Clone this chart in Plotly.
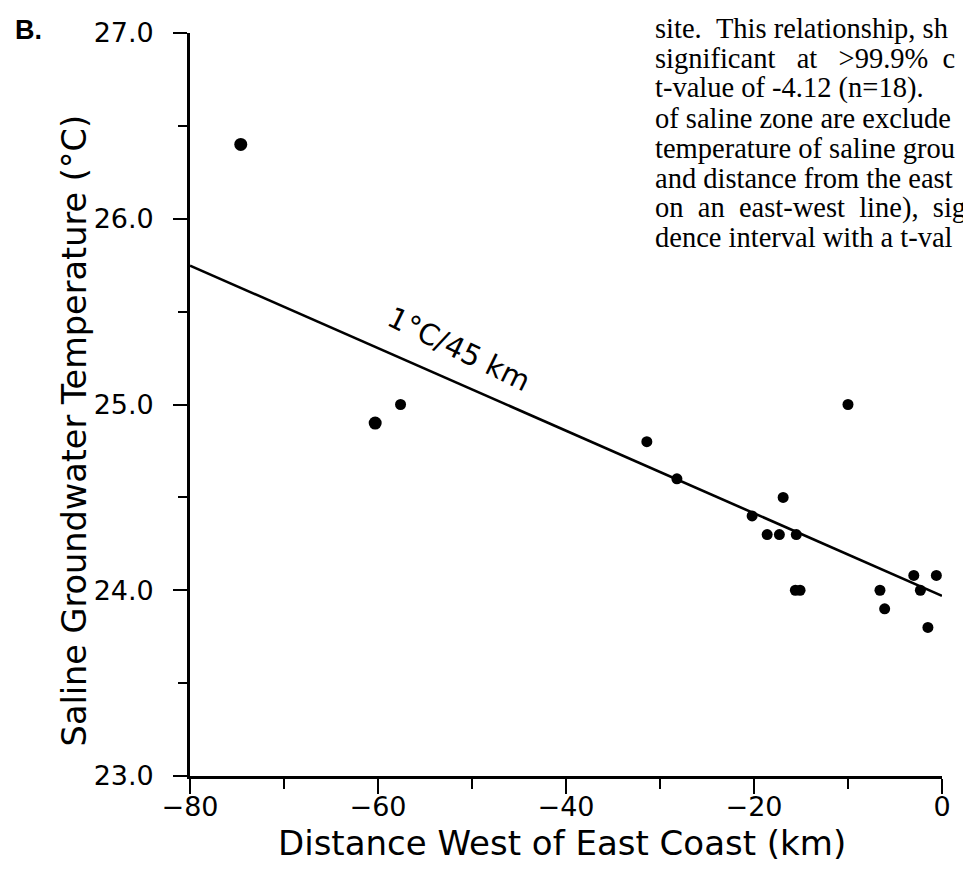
import plotly.graph_objects as go

# ---- data ----
dist_big = [-74.6, -60.3]
temp_big = [26.4, 24.9]

dist_pts = [-57.6, -31.4, -28.2, -20.2, -18.6, -17.3, -16.9, -15.5,
            -15.6, -15.1, -10.0, -6.6, -6.1, -3.0, -2.3, -1.5, -0.6]
temp_pts = [25.0, 24.8, 24.6, 24.4, 24.3, 24.3, 24.5, 24.3,
            24.0, 24.0, 25.0, 24.0, 23.9, 24.08, 24.0, 23.8, 24.08]

# regression: 1 degC per 45 km, value at the coast
fit_x = [-80, 0]
fit_intercept = 23.97
fit_slope = -1.0 / 45.0
fit_y = [fit_intercept + fit_slope * x for x in fit_x]

x_ticks = [-80, -60, -40, -20, 0]
y_ticks = [23.0, 24.0, 25.0, 26.0, 27.0]

NB = "\u00a0"
para_lines = [
    "site." + NB + NB + "This relationship, sh",
    "significant" + NB + NB + " at" + NB + NB + " >99.9%" + NB + " c",
    "t-value of -4.12 (n=18).",
    "of saline zone are exclude",
    "temperature of saline grou",
    "and distance from the east",
    "on" + NB + " an" + NB + " east-west" + NB + " line)," + NB + " sig",
    "dence interval with a t-val",
]

W, H = 963, 871
L, R, T, B = 190, 12, 33, 95
PW, PH = W - L - R, H - T - B


def px_x(px):
    return (px - L) / PW


def px_y(py):
    return (H - B - py) / PH


SANS = "DejaVu Sans"
SERIF = "Liberation Serif"

fig = go.Figure()
fig.add_trace(go.Scatter(x=fit_x, y=fit_y, mode="lines",
                         line=dict(color="black", width=2.6),
                         hoverinfo="skip", showlegend=False))
fig.add_trace(go.Scatter(x=dist_pts, y=temp_pts, mode="markers",
                         marker=dict(color="black", size=11,
                                     line=dict(width=0)),
                         cliponaxis=False, showlegend=False))
fig.add_trace(go.Scatter(x=dist_big, y=temp_big, mode="markers",
                         marker=dict(color="black", size=13,
                                     line=dict(width=0)),
                         cliponaxis=False, showlegend=False))

annotations = []
# slope label
annotations.append(dict(x=-51.4, y=25.30, xref="x", yref="y",
                        text="1°C/45 km", showarrow=False, textangle=26,
                        font=dict(family=SANS, size=29, color="black")))
# y axis title
annotations.append(dict(x=px_x(73), y=px_y(431), xref="paper", yref="paper",
                        text="Saline Groundwater Temperature (°C)",
                        showarrow=False, textangle=-90,
                        xanchor="center", yanchor="middle",
                        font=dict(family=SANS, size=33.5, color="black")))
# x axis title
annotations.append(dict(x=px_x(566), y=px_y(843), xref="paper", yref="paper",
                        text="Distance West of East Coast (km)",
                        showarrow=False, xanchor="center", yanchor="middle",
                        font=dict(family=SANS, size=34, color="black")))
# panel letter
annotations.append(dict(x=px_x(11), y=px_y(30), xref="paper", yref="paper",
                        text="<b>B.</b>", showarrow=False,
                        xanchor="left", yanchor="middle",
                        font=dict(family="Liberation Sans", size=27,
                                  color="black")))
# paragraph text (cut off at the right edge, as in the scan)
for i, line in enumerate(para_lines):
    annotations.append(dict(x=px_x(659), y=px_y(28 + i * 30),
                            xref="paper", yref="paper", text=line,
                            showarrow=False, xanchor="left",
                            yanchor="middle",
                            font=dict(family=SERIF, size=28.5,
                                      color="black")))
# page number (mostly cut off at the bottom)
annotations.append(dict(x=px_x(634), y=px_y(884), xref="paper", yref="paper",
                        text="160", showarrow=False, xanchor="center",
                        yanchor="middle",
                        font=dict(family=SERIF, size=26, color="black")))

fig.update_layout(
    width=W, height=H,
    margin=dict(l=L, r=R, t=T, b=B, pad=0),
    paper_bgcolor="white", plot_bgcolor="white",
    showlegend=False,
    annotations=annotations,
    xaxis=dict(range=[-80, 0], tickvals=x_ticks,
               ticktext=[("\u2212" + str(abs(v))) if v < 0 else str(v)
                         for v in x_ticks],
               showgrid=False, zeroline=False,
               showline=True, linecolor="black", linewidth=2.6,
               ticks="outside", ticklen=15, tickwidth=2.2, tickcolor="black",
               minor=dict(dtick=10, ticks="outside", ticklen=10,
                          tickwidth=2.2, tickcolor="black", showgrid=False),
               ticklabelstandoff=-10,
               tickfont=dict(family=SANS, size=27, color="black")),
    yaxis=dict(range=[23, 27], tickvals=y_ticks,
               ticktext=["%.1f" % v for v in y_ticks],
               showgrid=False, zeroline=False,
               showline=True, linecolor="black", linewidth=2.6,
               ticks="outside", ticklen=14, tickwidth=2.2, tickcolor="black",
               minor=dict(dtick=0.5, ticks="outside", ticklen=9,
                          tickwidth=2.2, tickcolor="black", showgrid=False),
               ticklabelstandoff=14,
               tickfont=dict(family=SANS, size=27, color="black")),
)

fig.write_html("out.html")
